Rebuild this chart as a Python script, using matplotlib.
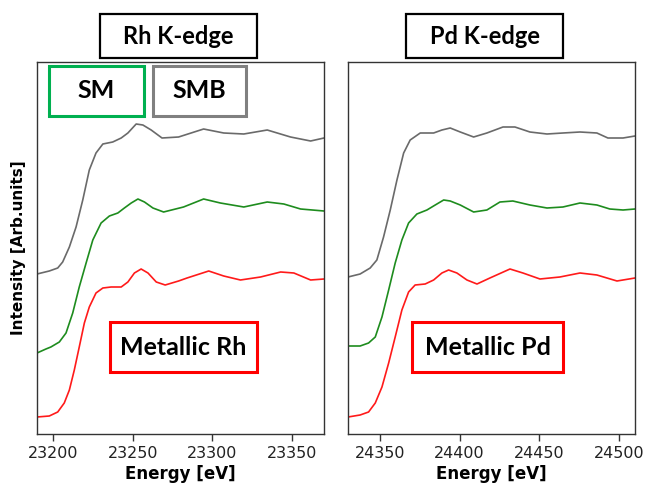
import matplotlib.pyplot as plt
from matplotlib.patches import Rectangle

# Rh K-edge XANES (energy in eV, intensity in arb. units incl. vertical offset)
rh_metal_e = [23190, 23197.7, 23203, 23207.1, 23210.3, 23213.4, 23216.5, 23219.7, 23222.8,
              23227, 23231.3, 23236.5, 23242.8, 23247, 23251.1, 23255.3, 23259.6, 23264.8,
              23270.4, 23278.8, 23284.1, 23297.7, 23307.1, 23317.6, 23330.2, 23342.8,
              23351.1, 23361.6, 23370]
rh_metal_i = [17, 18, 22, 31, 44, 64, 87, 111, 127, 141, 146, 147, 147, 152, 161, 165, 161,
              152, 149, 153, 156, 163, 158, 154, 157, 162, 161, 154, 155]

rh_sm_e = [23190, 23195.6, 23198.7, 23204, 23208.2, 23212.4, 23216.5, 23220.8, 23225,
           23230.2, 23235.4, 23240.7, 23244.8, 23249.1, 23253.3, 23257.4, 23262.7, 23269.4,
           23281.9, 23294.5, 23305, 23319.7, 23334.4, 23344.8, 23355.3, 23370]
rh_sm_i = [81, 85, 87, 92, 101, 121, 147, 171, 194, 211, 218, 221, 226, 231, 235, 232, 226,
           222, 227, 235, 231, 227, 232, 230, 225, 223]

rh_smb_e = [23190, 23197.7, 23203, 23206.1, 23210.3, 23214.5, 23218.7, 23222.8, 23227,
            23231.3, 23237.5, 23242.8, 23247, 23252.2, 23256.4, 23261.6, 23268.4, 23278.8,
            23294.5, 23307.1, 23319.7, 23334.4, 23349, 23361.6, 23370]
rh_smb_i = [160, 163, 166, 172, 187, 207, 234, 264, 281, 290, 292, 296, 301, 310, 309, 304,
            296, 297, 305, 301, 300, 304, 297, 293, 296]

# Pd K-edge XANES
pd_metal_e = [24330, 24337.6, 24342.9, 24347.1, 24351.3, 24355.5, 24359.6, 24363.8, 24368,
              24372.1, 24378.4, 24383.7, 24388.9, 24393.1, 24398.3, 24404.6, 24410.9,
              24419, 24431.6, 24439.7, 24450.4, 24462.9, 24475.5, 24486.1, 24498.7, 24510]
pd_metal_i = [17, 19, 22, 31, 47, 71, 97, 124, 142, 149, 150, 154, 161, 164, 161, 154, 150,
              156, 165, 161, 155, 157, 161, 159, 153, 156]

pd_sm_e = [24330, 24337.6, 24342.9, 24347.1, 24351.3, 24355.5, 24359.6, 24363.8, 24368,
           24373.2, 24379.5, 24384.7, 24390, 24394.1, 24400.4, 24408.8, 24417.1, 24425.3,
           24433.4, 24444.1, 24454.8, 24464.8, 24475.5, 24486.1, 24494.2, 24502.5, 24510]
pd_sm_i = [88, 88, 91, 97, 117, 144, 171, 194, 211, 220, 224, 229, 234, 233, 229, 222, 224,
           232, 233, 229, 226, 227, 231, 229, 225, 224, 225]

pd_smb_e = [24330, 24337.6, 24343.9, 24348.1, 24352.3, 24356.5, 24360.7, 24364.9, 24369,
            24375.3, 24383.7, 24388.9, 24394.1, 24400.4, 24408.8, 24417.1, 24427.2, 24434.7,
            24444.1, 24454.8, 24464.8, 24475.5, 24486.1, 24493, 24502.5, 24510]
pd_smb_i = [157, 160, 166, 174, 197, 224, 254, 281, 294, 301, 301, 304, 306, 302, 297, 301,
            307, 307, 302, 300, 301, 302, 301, 296, 296, 298]

panels = [
    dict(title='Rh K-edge', metal='Metallic Rh', xlim=(23190, 23370),
         ticks=[23200, 23250, 23300, 23350],
         curves=[(rh_smb_e, rh_smb_i), (rh_sm_e, rh_sm_i), (rh_metal_e, rh_metal_i)]),
    dict(title='Pd K-edge', metal='Metallic Pd', xlim=(24330, 24510),
         ticks=[24350, 24400, 24450, 24500],
         curves=[(pd_smb_e, pd_smb_i), (pd_sm_e, pd_sm_i), (pd_metal_e, pd_metal_i)]),
]
line_colors = ['#6a6a6a', '#1e8c1e', '#ff1a1a']

W, H = 648, 486
fig = plt.figure(figsize=(W / 100, H / 100), dpi=100)


def fx(px):
    return px / W


def fy(py):
    return 1 - py / H


def box(x0, y0, x1, y1, color, lw, text, size):
    fig.patches.append(Rectangle((fx(x0), fy(y1)), fx(x1 - x0), (y1 - y0) / H,
                                 transform=fig.transFigure, fill=False,
                                 edgecolor=color, linewidth=lw, zorder=5))
    fig.text(fx((x0 + x1) / 2), fy((y0 + y1) / 2), text, ha='center', va='center',
             fontsize=size, fontweight='bold', family='Lato', color='black')


ax_left = [37, 348]
for k, p in enumerate(panels):
    ax = fig.add_axes([fx(ax_left[k]), fy(434), fx(287), 372 / H])
    for (e, i), c in zip(p['curves'], line_colors):
        ax.plot(e, i, color=c, linewidth=1.2, solid_joinstyle='round')
    ax.set_xlim(*p['xlim'])
    ax.set_ylim(0, 372)
    ax.set_xticks(p['ticks'])
    ax.set_yticks([])
    ax.tick_params(axis='x', labelsize=11.5, length=5, width=1, color='#333333',
                   labelcolor='#222222')
    for s in ax.spines.values():
        s.set_color('#333333')
        s.set_linewidth(1.0)
    ax.set_xlabel('Energy [eV]', fontsize=12, fontweight='bold', labelpad=3)
    if k == 0:
        ax.set_ylabel('Intensity [Arb.units]', fontsize=11, fontweight='bold', labelpad=8)

# panel titles and sample tags
box(100, 14, 257, 58, 'black', 1.6, 'Rh K-edge', 17)
box(406, 14, 563, 58, 'black', 1.6, 'Pd K-edge', 17)
box(49, 66, 144, 116, '#00b050', 2.2, 'SM', 18)
box(153, 66, 246, 116, '#808080', 2.2, 'SMB', 18)
box(110, 322, 257, 372, '#ff0000', 2.2, 'Metallic Rh', 18)
box(412, 322, 563, 372, '#ff0000', 2.2, 'Metallic Pd', 18)

fig.savefig('out.png', dpi=100)
